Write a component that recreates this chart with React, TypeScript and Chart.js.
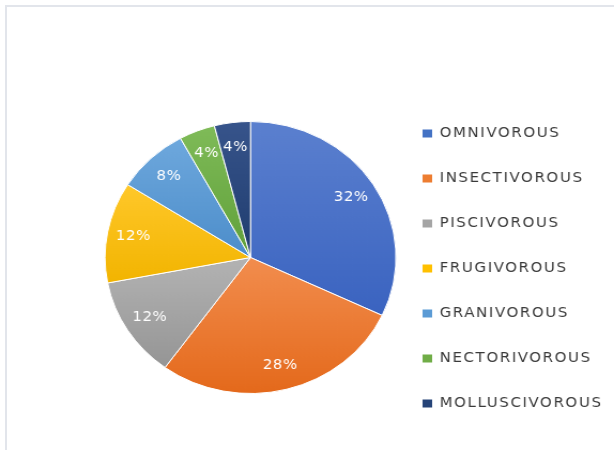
import React, { useEffect, useRef } from "react";
import { Chart, registerables } from "chart.js";

Chart.register(...registerables);

const categories = [
  "OMNIVOROUS",
  "INSECTIVOROUS",
  "PISCIVOROUS",
  "FRUGIVOROUS",
  "GRANIVOROUS",
  "NECTORIVOROUS",
  "MOLLUSCIVOROUS",
];
const shares = [32, 28, 12, 12, 8, 4, 4];
const baseColors = ["#4472C4", "#ED7D31", "#A5A5A5", "#FFC000", "#5B9BD5", "#70AD47", "#264478"];
const topColors = ["#5b80cf", "#f28d4e", "#b3b3b3", "#ffc82a", "#6ea8dd", "#7fbb58", "#37548b"];
const bottomColors = ["#3a63c0", "#e4691b", "#959595", "#f2b400", "#4c8dca", "#60a03a", "#1f3c6e"];

const VISIBLE_W = 574;
const CW = 620;
const CH = 450;
const SX = 614 / VISIBLE_W;
const LEGEND_FONT = '14px "DejaVu Sans"';
const LEGEND_SPACING = "1.5px";
const LEGEND_PAD = 31;
const BOX_W = 9;
const LEGEND_LEFT = 364;

const gradientPlugin = {
  id: "sliceGradient",
  beforeDatasetsDraw(chart: any) {
    const ctx = chart.ctx;
    const meta = chart.getDatasetMeta(0);
    meta.data.forEach((arc: any, i: number) => {
      const { y, startAngle, endAngle, outerRadius } = arc.getProps(
        ["y", "startAngle", "endAngle", "outerRadius"],
        true
      );
      const ys = [y, y + Math.sin(startAngle) * outerRadius, y + Math.sin(endAngle) * outerRadius];
      const norm = (a: number) => {
        let v = a;
        while (v < startAngle) v += Math.PI * 2;
        return v;
      };
      if (norm(-Math.PI / 2) <= endAngle) ys.push(y - outerRadius);
      if (norm(Math.PI / 2) <= endAngle) ys.push(y + outerRadius);
      const y0 = Math.min(...ys);
      const y1 = Math.max(...ys);
      const g = ctx.createLinearGradient(0, y0, 0, y1 + 0.01);
      g.addColorStop(0, topColors[i]);
      g.addColorStop(1, bottomColors[i]);
      if (Object.isFrozen(arc.options)) {
        arc.options = Object.assign({}, arc.options, { backgroundColor: g });
      } else {
        arc.options.backgroundColor = g;
      }
    });
  },
};

const labelPlugin = {
  id: "sliceLabels",
  afterDatasetsDraw(chart: any) {
    const ctx = chart.ctx;
    const meta = chart.getDatasetMeta(0);
    const data = chart.data.datasets[0].data as number[];
    const total = data.reduce((a, b) => a + b, 0);
    ctx.save();
    ctx.letterSpacing = "0.5px";
    ctx.font = '14px "DejaVu Sans"';
    ctx.fillStyle = "#ffffff";
    ctx.textAlign = "center";
    ctx.textBaseline = "middle";
    meta.data.forEach((arc: any, i: number) => {
      const { x, y, startAngle, endAngle, outerRadius } = arc.getProps(
        ["x", "y", "startAngle", "endAngle", "outerRadius"],
        true
      );
      const mid = (startAngle + endAngle) / 2;
      const r = outerRadius * 0.82;
      const pct = Math.round((data[i] / total) * 100);
      ctx.fillText(pct + "%", x + Math.cos(mid) * r, y + Math.sin(mid) * r);
    });
    ctx.restore();
  },
};

const spacingPlugin = {
  id: "letterSpacing",
  beforeLayout(chart: any) {
    chart.ctx.letterSpacing = LEGEND_SPACING;
  },
  beforeDraw(chart: any) {
    chart.ctx.letterSpacing = LEGEND_SPACING;
  },
};

function legendWidth(): number {
  const c = document.createElement("canvas");
  const ctx: any = c.getContext("2d");
  ctx.font = LEGEND_FONT;
  ctx.letterSpacing = LEGEND_SPACING;
  let maxText = 0;
  categories.forEach((t) => {
    maxText = Math.max(maxText, ctx.measureText(t).width);
  });
  return LEGEND_PAD + BOX_W + 7 + maxText + 10;
}

export default function App() {
  const ref = useRef<HTMLCanvasElement | null>(null);

  useEffect(() => {
    if (!ref.current) return;
    const lw = legendWidth();
    const padRight = Math.max(0, CW - LEGEND_LEFT - lw);
    const chart = new Chart(ref.current, {
      type: "pie",
      data: {
        labels: categories,
        datasets: [
          {
            data: shares,
            backgroundColor: baseColors,
            borderColor: "#ffffff",
            borderWidth: 1,
          },
        ],
      },
      options: {
        responsive: false,
        animation: false,
        devicePixelRatio: 1,
        radius: 136,
        layout: { padding: { left: 104.4, right: padRight, top: 65, bottom: 0 } },
        plugins: {
          tooltip: { enabled: false },
          legend: {
            position: "right",
            align: "center",
            title: { display: true, text: "", padding: 0, font: { size: 10, lineHeight: 2.2 } },
            labels: {
              boxWidth: BOX_W,
              boxHeight: 8,
              padding: LEGEND_PAD,
              color: "#3a3a3a",
              font: { family: '"DejaVu Sans"', size: 14 },
              generateLabels: (c: any) => {
                const items = (Chart as any).overrides.pie.plugins.legend.labels.generateLabels(c);
                return items.map((it: any, i: number) => ({
                  ...it,
                  fillStyle: baseColors[i],
                  lineWidth: 0,
                  strokeStyle: baseColors[i],
                }));
              },
            },
          },
        },
      } as any,
      plugins: [spacingPlugin, gradientPlugin, labelPlugin],
    });
    return () => chart.destroy();
  }, []);

  return (
    <div
      style={{
        position: "fixed",
        left: 0,
        top: 0,
        width: 614,
        height: 450,
        overflow: "hidden",
        background: "#ffffff",
      }}
    >
      <div
        style={{
          position: "absolute",
          left: 5,
          top: 5,
          width: 700,
          height: 500,
          borderLeft: "2px solid #e2e5eb",
          borderTop: "2px solid #e2e5eb",
        }}
      />
      <canvas
        ref={ref}
        width={CW}
        height={CH}
        style={{
          position: "absolute",
          left: 0,
          top: 0,
          width: CW,
          height: CH,
          transform: `scaleX(${SX})`,
          transformOrigin: "0 0",
        }}
      />
    </div>
  );
}
